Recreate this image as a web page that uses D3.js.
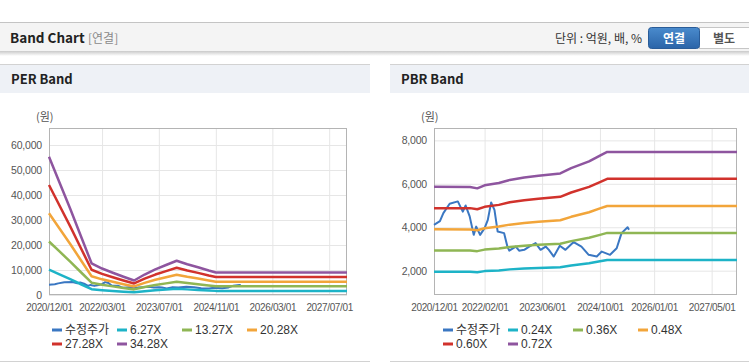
<!DOCTYPE html>
<html>
<head>
<meta charset="utf-8">
<script src="https://cdn.jsdelivr.net/npm/d3@7"></script>
<style>
  body { margin: 0; background: #fff; }
  svg { display: block; font-family: "Liberation Sans", Arial, "Noto Sans CJK KR", sans-serif; }
</style>
</head>
<body>
<svg id="chart" width="749" height="364"></svg>
<script>
// ===== DATA =====
const seriesColors = ['#3a77c2', '#1db3c7', '#8fb654', '#f2a53a', '#d1322c', '#8e559f'];

// adjusted stock price (shared by both charts)
const priceDates = ['2020-12-01','2021-01-20','2021-02-18','2021-04-12','2021-06-20','2021-08-01','2021-08-25','2021-09-28','2021-11-01','2021-11-22',
  '2021-12-25','2022-02-01','2022-02-28','2022-03-28','2022-04-25','2022-05-22','2022-07-15','2022-08-12','2022-08-28','2022-10-22',
  '2022-11-19','2023-01-01','2023-02-12','2023-04-07','2023-05-19','2023-07-01','2023-07-28','2023-09-07','2023-10-28','2023-12-15',
  '2024-02-22','2024-04-28','2024-06-28','2024-09-04','2024-10-16','2024-12-25','2025-02-19','2025-04-01','2025-05-22','2025-06-03'];
const priceValues = [4110,4280,4650,5080,5190,4720,5000,4500,3650,4030,
  3650,3960,4340,5140,4800,3800,3730,3110,2920,3110,
  2920,2960,3110,3270,2960,3110,2960,2650,3150,2960,
  3320,3110,2730,2650,2880,2730,3030,3730,4000,3880];

// PER band
const perNames = ['수정주가', '6.27X', '13.27X', '20.28X', '27.28X', '34.28X'];
const perBandDates = ['2020-12-01','2021-03-01','2021-06-01','2021-09-01','2021-12-01','2022-03-01','2022-06-01','2022-09-01','2022-12-01',
  '2023-03-01','2023-06-01','2023-09-01','2023-12-01','2024-03-01','2024-06-01','2024-09-01','2024-11-01','2027-12-01'];
const per627  = [10110, 8230, 6310, 4300, 2320, 1940, 1630, 1340, 1060, 1500, 1880, 2190, 2510, 2250, 2030, 1790, 1650, 1650];
const per1327 = [21400,17420,13350, 9100, 4910, 4100, 3450, 2830, 2240, 3170, 3980, 4650, 5310, 4760, 4300, 3800, 3490, 3490];
const per2028 = [32710,26630,20400,13910, 7500, 6270, 5270, 4320, 3430, 4850, 6080, 7100, 8110, 7280, 6570, 5800, 5330, 5330];
const per2728 = [44000,35820,27440,18710,10090, 8430, 7090, 5810, 4610, 6520, 8180, 9550,10910, 9790, 8840, 7800, 7180, 7180];
const per3428 = [55290,45010,34490,23520,12680,10590, 8910, 7300, 5790, 8190,10280,12000,13710,12310,11110, 9800, 9020, 9020];
const perYTicks = [0, 10000, 20000, 30000, 40000, 50000, 60000];
const perXTicks = ['2020/12/01', '2022/03/01', '2023/07/01', '2024/11/01', '2026/03/01', '2027/07/01'];

// PBR band
const pbrNames = ['수정주가', '0.24X', '0.36X', '0.48X', '0.60X', '0.72X'];
const pbrBandDates = ['2020-12-01','2021-10-01','2021-12-01','2022-02-01','2022-06-01','2022-09-01','2023-01-01',
  '2023-05-01','2023-11-01','2024-02-01','2024-07-01','2024-10-01','2024-12-01','2027-12-01'];
const pbr024 = [1950,1950,1930,1980,2010,2060,2100,2120,2160,2240,2340,2430,2490,2490];
const pbr036 = [2930,2930,2900,2970,3020,3090,3150,3190,3240,3360,3520,3650,3740,3740];
const pbr048 = [3910,3900,3860,3950,4030,4120,4190,4250,4320,4480,4690,4870,4980,4980];
const pbr060 = [4880,4880,4830,4940,5030,5150,5240,5310,5400,5600,5860,6080,6230,6230];
const pbr072 = [5860,5850,5790,5930,6040,6180,6290,6370,6480,6720,7030,7300,7470,7470];
const pbrYTicks = [2000, 4000, 6000, 8000];
const pbrXTicks = ['2020/12/01', '2022/02/01', '2023/06/01', '2024/10/01', '2026/01/01', '2027/05/01'];

// ===== HELPERS =====
const parseDay = d3.timeParse('%Y-%m-%d');
const parseTick = d3.timeParse('%Y/%m/%d');
const fmtTick = d3.timeFormat('%Y/%m/%d');
const toPoints = (dates, values) => dates.map((d, i) => ({ date: parseDay(d), value: values[i] }));

const svg = d3.select('#chart');
const kr = '"Noto Sans CJK KR", "Liberation Sans", sans-serif';

// ===== PAGE HEADER =====
svg.append('line').attr('x1', 0).attr('x2', 749).attr('y1', 22.5).attr('y2', 22.5).attr('stroke', '#c4c4c4');
svg.append('rect').attr('x', 0).attr('y', 23).attr('width', 749).attr('height', 28).attr('fill', '#f4f4f4');

const defs = svg.append('defs');
const shadow = defs.append('linearGradient').attr('id', 'shadow').attr('x1', 0).attr('x2', 0).attr('y1', 0).attr('y2', 1);
shadow.append('stop').attr('offset', 0).attr('stop-color', '#c9c9c9');
shadow.append('stop').attr('offset', 1).attr('stop-color', '#ffffff');
svg.append('rect').attr('x', 0).attr('y', 51).attr('width', 749).attr('height', 5).attr('fill', 'url(#shadow)');

const btnGrad = defs.append('linearGradient').attr('id', 'btn').attr('x1', 0).attr('x2', 0).attr('y1', 0).attr('y2', 1);
btnGrad.append('stop').attr('offset', 0).attr('stop-color', '#4a8bcd');
btnGrad.append('stop').attr('offset', 1).attr('stop-color', '#2a64a8');

svg.append('text').attr('x', 10).attr('y', 43).text('Band Chart')
  .style('font-family', kr).style('font-size', '13.5px').style('font-weight', 700).attr('fill', '#222');
svg.append('text').attr('x', 88).attr('y', 43).text('[연결]')
  .style('font-family', kr).style('font-size', '12px').attr('fill', '#8a8a8a');
svg.append('text').attr('x', 642).attr('y', 43).attr('text-anchor', 'end').text('단위 : 억원, 배, %')
  .style('font-family', kr).style('font-size', '12px').attr('fill', '#333');

svg.append('rect').attr('x', 699.5).attr('y', 27.5).attr('width', 52).attr('height', 21)
  .attr('fill', '#fff').attr('stroke', '#c6c6c6');
svg.append('rect').attr('x', 648.5).attr('y', 27.5).attr('width', 51).attr('height', 21).attr('rx', 3)
  .attr('fill', 'url(#btn)').attr('stroke', '#2a5c98');
svg.append('text').attr('x', 674).attr('y', 42.5).attr('text-anchor', 'middle').text('연결')
  .style('font-family', kr).style('font-size', '12px').style('font-weight', 700).attr('fill', '#fff');
svg.append('text').attr('x', 724).attr('y', 42.5).attr('text-anchor', 'middle').text('별도')
  .style('font-family', kr).style('font-size', '12px').style('font-weight', 700).attr('fill', '#555');

// ===== PANELS =====
function drawPanel(o) {
  const g = svg.append('g');

  // panel chrome
  g.append('rect').attr('x', o.px).attr('y', 64).attr('width', o.pw).attr('height', 29).attr('fill', '#eef1f6');
  g.append('line').attr('x1', o.px).attr('x2', o.px + o.pw).attr('y1', 64.5).attr('y2', 64.5).attr('stroke', '#d2d2d2');
  g.append('line').attr('x1', o.px).attr('x2', o.px + o.pw).attr('y1', 361.5).attr('y2', 361.5).attr('stroke', '#d2d2d2');
  g.append('text').attr('x', o.px + 11).attr('y', 84).text(o.title)
    .style('font-family', kr).style('font-size', '13px').style('font-weight', 700).attr('fill', '#222');

  const x = d3.scaleTime()
    .domain([parseDay('2020-12-01'), parseDay('2027-12-01')])
    .range([o.left, o.right]);
  const y = d3.scaleLinear().domain(o.yDomain).range([o.bottom, o.top]);
  const xTickDates = o.xTicks.map(parseTick);

  // grid
  g.append('g').attr('transform', `translate(0,${o.bottom})`)
    .call(d3.axisBottom(x).tickValues(xTickDates).tickSize(-(o.bottom - o.top)).tickFormat(''))
    .call(a => a.select('.domain').remove())
    .selectAll('line').attr('stroke', '#e6e6e6');
  g.append('g').attr('transform', `translate(${o.left},0)`)
    .call(d3.axisLeft(y).tickValues(o.yTicks).tickSize(-(o.right - o.left)).tickFormat(''))
    .call(a => a.select('.domain').remove())
    .selectAll('line').attr('stroke', '#e6e6e6');

  // frame
  g.append('rect').attr('x', o.left + 0.5).attr('y', o.top + 0.5)
    .attr('width', o.right - o.left - 1).attr('height', o.bottom - o.top - 1)
    .attr('fill', 'none').attr('stroke', '#b4b4b4');

  // axis labels
  const xAxis = g.append('g').attr('transform', `translate(0,${o.bottom})`)
    .call(d3.axisBottom(x).tickValues(xTickDates).tickSize(0).tickPadding(9).tickFormat(fmtTick));
  xAxis.select('.domain').remove();
  xAxis.selectAll('text').attr('fill', '#555').style('font-size', '10px').style('letter-spacing', '-0.35px');

  const yAxis = g.append('g').attr('transform', `translate(${o.left},0)`)
    .call(d3.axisLeft(y).tickValues(o.yTicks).tickSize(0).tickPadding(7).tickFormat(d3.format(',')));
  yAxis.select('.domain').remove();
  yAxis.selectAll('text').attr('fill', '#555').style('font-size', '10.5px').style('letter-spacing', '-0.2px');

  g.append('text').attr('x', o.left - 13).attr('y', 121).text('(원)')
    .style('font-family', kr).style('font-size', '11px').attr('fill', '#555');

  // lines
  const line = d3.line().x(d => x(d.date)).y(d => y(d.value));
  const plot = g.append('g');
  o.series.forEach((s, i) => {
    plot.append('path').datum(s)
      .attr('d', line)
      .attr('fill', 'none')
      .attr('stroke', seriesColors[i])
      .attr('stroke-width', i === 0 ? 2 : 2.5)
      .attr('stroke-linejoin', 'round');
  });

  // legend
  const legend = g.append('g');
  o.names.forEach((name, i) => {
    const lx = o.legendX + (i % 4) * 65;
    const ly = i < 4 ? 330 : 344;
    legend.append('line').attr('x1', lx).attr('x2', lx + 10).attr('y1', ly).attr('y2', ly)
      .attr('stroke', seriesColors[i]).attr('stroke-width', 3);
    legend.append('text').attr('x', lx + 13).attr('y', ly).attr('dy', '0.36em').text(name)
      .style('font-size', '12px').attr('fill', '#333');
  });
}

drawPanel({
  title: 'PER Band', px: 0, pw: 370,
  left: 49, right: 347, top: 128, bottom: 295,
  yDomain: [0, 66800], yTicks: perYTicks, xTicks: perXTicks,
  names: perNames, legendX: 52,
  series: [
    toPoints(priceDates, priceValues),
    toPoints(perBandDates, per627),
    toPoints(perBandDates, per1327),
    toPoints(perBandDates, per2028),
    toPoints(perBandDates, per2728),
    toPoints(perBandDates, per3428)
  ]
});

drawPanel({
  title: 'PBR Band', px: 390, pw: 359,
  left: 434, right: 737, top: 128, bottom: 295,
  yDomain: [880, 8570], yTicks: pbrYTicks, xTicks: pbrXTicks,
  names: pbrNames, legendX: 443,
  series: [
    toPoints(priceDates, priceValues),
    toPoints(pbrBandDates, pbr024),
    toPoints(pbrBandDates, pbr036),
    toPoints(pbrBandDates, pbr048),
    toPoints(pbrBandDates, pbr060),
    toPoints(pbrBandDates, pbr072)
  ]
});
</script>
</body>
</html>
